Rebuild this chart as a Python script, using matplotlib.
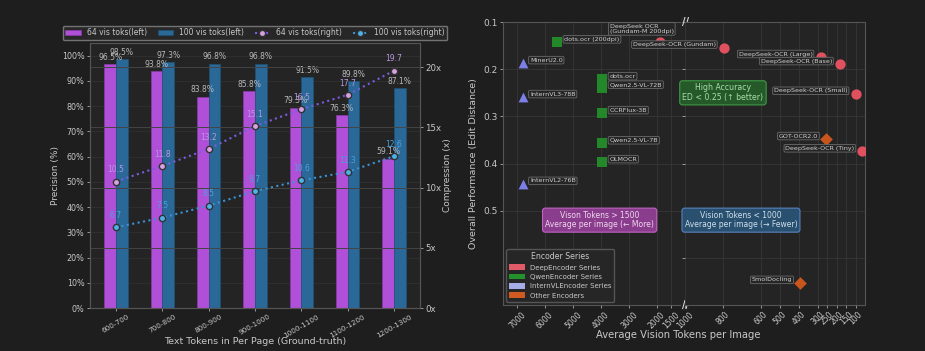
import matplotlib.pyplot as plt
from matplotlib.patches import Patch

BG = "#1e1e1e"
AX_BG = "#242424"
TXT = "#c8c8c8"
SPINE = "#555555"

# left panel: precision / compression per text-token bin
token_bins = ["600-700", "700-800", "800-900", "900-1000", "1000-1100", "1100-1200", "1200-1300"]
prec_64 = [96.5, 93.8, 83.8, 85.8, 79.3, 76.3, 59.1]
prec_100 = [98.5, 97.3, 96.8, 96.8, 91.5, 89.8, 87.1]
comp_64 = [10.5, 11.8, 13.2, 15.1, 16.5, 17.7, 19.7]
comp_100 = [6.7, 7.5, 8.5, 9.7, 10.6, 11.3, 12.6]

# right panel: models, vision tokens, edit distance, encoder family
models = [
    "DeepSeek OCR\n(Gundam-M 200dpi)", "DeepSeek-OCR (Gundam)", "DeepSeek-OCR (Large)",
    "DeepSeek-OCR (Base)", "DeepSeek-OCR (Small)", "DeepSeek-OCR (Tiny)",
    "dots.ocr (200dpi)", "dots.ocr", "Qwen2.5-VL-72B", "OCRFlux-3B", "Qwen2.5-VL-7B", "OLMOCR",
    "MinerU2.0", "InternVL3-78B", "InternVL2-76B",
    "GOT-OCR2.0", "SmolDocling",
]
vision_tokens = [1900, 795, 285, 182, 100, 64,
                 5560, 3950, 3950, 3950, 3950, 3950,
                 6790, 6790, 6790,
                 256, 392]
edit_distance = [0.142, 0.154, 0.174, 0.189, 0.252, 0.374,
                 0.143, 0.221, 0.239, 0.293, 0.357, 0.397,
                 0.187, 0.259, 0.443,
                 0.348, 0.653]
encoder = ["deep"] * 6 + ["qwen"] * 6 + ["intern"] * 3 + ["other"] * 2

enc_style = {
    "deep": ("o", "#e0505e", 55),
    "qwen": ("s", "#23882a", 50),
    "intern": ("^", "#7b7fe6", 50),
    "other": ("D", "#c8561c", 42),
}
legend_items = [
    ("DeepEncoder Series", "#e05a68"),
    ("QwenEncoder Series", "#23922a"),
    ("InternVLEncoder Series", "#a6ace8"),
    ("Other Encoders", "#d05a20"),
]

plt.rcParams.update({
    "font.family": "DejaVu Sans",
    "text.color": TXT,
    "axes.labelcolor": TXT,
    "xtick.color": TXT,
    "ytick.color": TXT,
})

fig = plt.figure(figsize=(9.25, 3.51), dpi=100, facecolor=BG)

# ---------------- left panel ----------------
ax = fig.add_axes([0.0973, 0.1225, 0.3567, 0.755], facecolor=AX_BG)
ax2 = ax.twinx()
x = list(range(len(token_bins)))
w = 0.25
ax.bar([i - w / 2 for i in x], prec_64, w, color="#b050d8", edgecolor="#8a3aa8",
       linewidth=0.5, label="64 vis toks(left)", zorder=2)
ax.bar([i + w / 2 for i in x], prec_100, w, color="#2a6898", edgecolor="#1f5277",
       linewidth=0.5, label="100 vis toks(left)", zorder=2)
for i in x:
    ax.text(i - w / 2, prec_64[i] + 1.0, f"{prec_64[i]}%", ha="center", va="bottom",
            fontsize=5.5, color="#b8b8b8", zorder=3)
    ax.text(i + w / 2, prec_100[i] + 1.0, f"{prec_100[i]}%", ha="center", va="bottom",
            fontsize=5.5, color="#b8b8b8", zorder=3)
ax.set_xlim(-0.56, 6.56)
ax.set_ylim(0, 105)
ax.set_yticks(range(0, 101, 10))
ax.set_yticklabels([f"{v}%" for v in range(0, 101, 10)], fontsize=5.8)
ax.set_xticks(x)
ax.set_xticklabels(token_bins, rotation=30, ha="center", fontsize=5.2)
ax.set_ylabel("Precision (%)", fontsize=6.5, labelpad=1)
ax.set_xlabel("Text Tokens in Per Page (Ground-truth)", fontsize=6.8, labelpad=-1)
ax.grid(axis="y", color="#303030", linewidth=0.6, zorder=0)
ax.set_axisbelow(True)

ax2.plot(x, comp_64, linestyle=":", linewidth=1.5, color="#7a5ce0", marker="o",
         markersize=4.5, markerfacecolor="#d8a2e2", markeredgecolor="#333333",
         label="64 vis toks(right)", zorder=4)
ax2.plot(x, comp_100, linestyle=":", linewidth=1.5, color="#3a92d4", marker="o",
         markersize=4.5, markerfacecolor="#4cb2e8", markeredgecolor="#333333",
         label="100 vis toks(right)", zorder=4)
for i in x:
    ax2.text(i, comp_64[i] + 0.6, f"{comp_64[i]}", ha="center", va="bottom",
             fontsize=5.5, color="#b898e0")
    ax2.text(i, comp_100[i] + 0.6, f"{comp_100[i]}", ha="center", va="bottom",
             fontsize=5.5, color="#4aa0dc")
ax2.set_ylim(0, 22)
ax2.set_yticks([0, 5, 10, 15, 20])
ax2.set_yticklabels(["0x", "5x", "10x", "15x", "20x"], fontsize=6.2)
ax2.set_ylabel("Compression (x)", fontsize=6.5, labelpad=1)
ax2.grid(axis="y", color="#444444", linewidth=0.7)
for a in (ax, ax2):
    for s in a.spines.values():
        s.set_color(SPINE)
    a.tick_params(length=2, width=0.5, pad=2)

h1, l1 = ax.get_legend_handles_labels()
h2, l2 = ax2.get_legend_handles_labels()
leg = ax.legend(h1 + h2, l1 + l2, ncol=4, loc="lower center", bbox_to_anchor=(0.5, 1.005),
                fontsize=5.5, frameon=True, facecolor="#2a2a2a", edgecolor="#888888",
                borderaxespad=0.2, handlelength=2.0, columnspacing=1.4, labelcolor=TXT,
                borderpad=0.35)
leg.set_zorder(10)

# ---------------- right panel (broken x-axis) ----------------
bl, bb, bh = 0.5438, 0.131, 0.806
axL = fig.add_axes([bl, bb, 0.1968, bh], facecolor=AX_BG)
axR = fig.add_axes([bl + 0.1968, bb, 0.1946, bh], facecolor=AX_BG)
axL.set_xlim(7500, 1000)
axR.set_xlim(1000, 50)
axL.set_ylim(0.7, 0.1)
axR.set_ylim(0.7, 0.1)
axL.set_xticks([7000, 6000, 5000, 4000, 3000, 2000, 1500])
axR.set_xticks([1000, 800, 600, 500, 400, 300, 250, 200, 150, 100])
axL.set_yticks([0.1, 0.2, 0.3, 0.4, 0.5])
axR.set_yticks([0.1, 0.2, 0.3, 0.4, 0.5, 0.6])
for a in (axL, axR):
    a.grid(True, color="#363636", linewidth=0.6)
    a.set_axisbelow(True)
    a.tick_params(axis="x", labelrotation=45, labelsize=5.5, length=2, width=0.5, pad=1.5)
    a.tick_params(axis="y", labelsize=6.5, length=2, width=0.5, pad=2)
    for s in a.spines.values():
        s.set_color(SPINE)
axL.spines["right"].set_visible(False)
axR.spines["left"].set_visible(False)
axR.tick_params(axis="y", labelleft=False)
for lab in axL.get_xticklabels() + axR.get_xticklabels():
    lab.set_ha("center")
axL.set_ylabel("Overall Performance (Edit Distance)", fontsize=6.8, labelpad=4)
fig.text(0.733, 0.045, "Average Vision Tokens per Image", ha="center", va="center",
         fontsize=7.2, color=TXT)

box_kw = dict(boxstyle="round,pad=0.2", facecolor="#262626", edgecolor="#6a6a6a", linewidth=0.6)
for name, t, ed, enc in zip(models, vision_tokens, edit_distance, encoder):
    marker, color, size = enc_style[enc]
    target = axL if t > 1000 else axR
    target.scatter(t, ed, marker=marker, s=size, color=color, zorder=3, linewidths=0)
    if enc in ("qwen", "intern"):
        off, ha = (7, 3), "left"
    elif "\n" in name:
        off, ha = (-50, 13), "left"
    else:
        off, ha = (-8, 3), "right"
    target.annotate(name, (t, ed), xytext=off, textcoords="offset pixels", ha=ha,
                    va="center", fontsize=4.6, color="#d0d0d0", bbox=box_kw, zorder=5,
                    annotation_clip=False, linespacing=1.0)

axR.text(800, 0.25, "High Accuracy\nED < 0.25 (\u2191 better)", ha="center", va="center",
         fontsize=5.6, color="#a6e0a6", linespacing=1.1, zorder=6,
         bbox=dict(boxstyle="round,pad=0.35", facecolor="#25592a", edgecolor="#3f9a45", linewidth=0.8))
axL.text(4050, 0.52, "Vison Tokens > 1500\nAverage per image (\u2190 More)", ha="center",
         va="center", fontsize=5.5, color="#f0d8f0", linespacing=1.1, zorder=6,
         bbox=dict(boxstyle="round,pad=0.35", facecolor="#8a3d8c", edgecolor="#c063c2", linewidth=0.8))
axR.text(705, 0.52, "Vision Tokens < 1000\nAverage per image (\u2192 Fewer)", ha="center",
         va="center", fontsize=5.5, color="#d0e0f0", linespacing=1.1, zorder=6,
         bbox=dict(boxstyle="round,pad=0.35", facecolor="#29506e", edgecolor="#5a82c0", linewidth=0.8))

for yy in (1.0, 0.0):
    axL.text(1.0, yy, "//", transform=axL.transAxes, ha="center", va="center", fontsize=7,
             color="#dddddd", zorder=7, clip_on=False, fontweight="bold",
             bbox=dict(boxstyle="square,pad=0.05", facecolor=AX_BG, edgecolor="none"))

handles = [Patch(facecolor=c, label=l) for l, c in legend_items]
lg = axL.legend(handles=handles, title="Encoder Series", loc="lower left", fontsize=5,
                title_fontsize=5.6, facecolor="#262626", edgecolor="#555555", framealpha=1,
                labelcolor=TXT, borderaxespad=0.5, handlelength=2.2, handleheight=0.9,
                labelspacing=0.45)
lg.get_title().set_color(TXT)
lg.set_zorder(8)

fig.savefig("out.png", dpi=100, facecolor=BG)
